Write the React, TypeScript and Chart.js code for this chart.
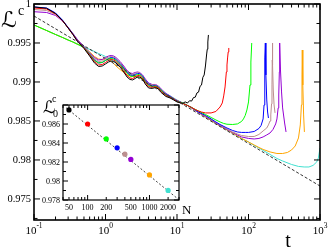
import React, { useEffect, useRef } from "react";
import { Chart, registerables } from "chart.js";

Chart.register(...registerables);

// ---------------- main plot data ----------------
const tEarly = [0.1, 0.15, 0.2, 0.25, 0.3, 0.35, 0.4, 0.5, 0.6, 0.7, 0.8, 0.9, 1, 1.1, 1.2, 1.3, 1.4, 1.6, 1.8, 2, 2.2, 2.4, 2.6, 2.8, 3, 3.3, 3.6, 4, 4.5, 5, 5.5, 6, 7, 8, 9, 10];

const blackEarly = [0.99962, 0.99945, 0.99878, 0.99789, 0.99692, 0.99609, 0.99526, 0.9943, 0.99333, 0.99244, 0.99199, 0.99205, 0.99231, 0.99256, 0.99269, 0.99263, 0.99244, 0.99192, 0.99128, 0.99064, 0.99032, 0.99026, 0.99045, 0.99064, 0.99064, 0.99039, 0.98974, 0.98923, 0.98917, 0.98929, 0.9891, 0.98865, 0.98814, 0.98795, 0.98769, 0.98744];
const blackLateT = [12, 13, 14, 15, 16, 17, 18, 19, 20, 21, 22, 23, 24, 25, 26, 26.5, 27, 27.5];
const blackLateL = [0.98724, 0.98745, 0.9873, 0.9876, 0.98755, 0.988, 0.98805, 0.9886, 0.9887, 0.98945, 0.9896, 0.9906, 0.9909, 0.99205, 0.99359, 0.9942, 0.99513, 0.99603];

const redEarly = [0.99949, 0.99936, 0.99872, 0.99789, 0.99692, 0.99609, 0.99532, 0.99436, 0.99346, 0.99263, 0.99218, 0.99224, 0.9925, 0.99276, 0.99289, 0.99282, 0.99263, 0.99212, 0.99147, 0.99083, 0.99051, 0.99045, 0.99064, 0.99083, 0.99083, 0.99051, 0.98994, 0.98942, 0.98929, 0.98942, 0.98923, 0.98878, 0.98827, 0.98801, 0.98776, 0.9875];
const redLateT = [12, 14, 16, 18, 20, 22, 25, 30, 35, 40, 43, 45, 47, 49, 50, 51, 52, 53];
const redLateL = [0.98724, 0.98699, 0.98673, 0.98647, 0.98628, 0.98615, 0.98603, 0.98603, 0.98622, 0.98679, 0.98731, 0.98821, 0.98936, 0.99128, 0.99218, 0.99308, 0.99385, 0.99436];

const greenEarly = [0.99731, 0.9966, 0.99609, 0.99571, 0.99538, 0.99513, 0.99487, 0.99442, 0.99353, 0.99276, 0.99244, 0.9925, 0.99276, 0.99295, 0.99301, 0.99295, 0.99276, 0.99224, 0.99167, 0.99109, 0.99077, 0.99071, 0.99083, 0.99096, 0.99096, 0.99064, 0.99006, 0.98955, 0.98942, 0.98949, 0.98929, 0.98891, 0.98833, 0.98808, 0.98776, 0.9875];
const greenLateT = [12, 14, 16, 18, 20, 25, 30, 35, 40, 45, 50, 60, 70, 80, 85, 90, 95, 100, 105, 108, 111];
const greenLateL = [0.98731, 0.98699, 0.98673, 0.98647, 0.98628, 0.98583, 0.98545, 0.98513, 0.98487, 0.98468, 0.98458, 0.98455, 0.98462, 0.98494, 0.98526, 0.98571, 0.98641, 0.98744, 0.98962, 0.99256, 0.995];

const blueEarly = [0.99962, 0.99949, 0.99885, 0.99795, 0.99699, 0.99615, 0.99538, 0.99442, 0.99359, 0.99282, 0.99244, 0.9925, 0.99276, 0.99301, 0.99314, 0.99308, 0.99289, 0.99237, 0.9918, 0.99122, 0.9909, 0.99083, 0.99096, 0.99109, 0.99109, 0.99077, 0.99019, 0.98968, 0.98949, 0.98955, 0.98936, 0.98897, 0.9884, 0.98814, 0.98782, 0.98756];
const blueLateT = [12, 14, 16, 18, 20, 25, 30, 35, 40, 50, 60, 70, 80, 90, 100, 120, 140, 150, 160, 165, 168, 170, 172, 175, 180, 185, 190];
const blueLateL = [0.98731, 0.98699, 0.98673, 0.98641, 0.98615, 0.98571, 0.98526, 0.98487, 0.98455, 0.9841, 0.98378, 0.98359, 0.98353, 0.98353, 0.98353, 0.98365, 0.98404, 0.98442, 0.98526, 0.98705, 0.99026, 0.99308, 0.995, 0.9909, 0.98769, 0.98615, 0.98538];

const brownEarly = [0.9993, 0.99917, 0.99865, 0.99789, 0.99699, 0.99622, 0.99545, 0.99449, 0.99372, 0.99301, 0.99263, 0.99269, 0.99295, 0.99321, 0.99327, 0.99321, 0.99301, 0.9925, 0.99192, 0.99135, 0.99103, 0.99096, 0.99109, 0.99122, 0.99115, 0.99083, 0.99026, 0.98974, 0.98962, 0.98962, 0.98942, 0.98904, 0.98846, 0.98814, 0.98788, 0.98763];
const brownLateT = [12, 14, 16, 18, 20, 25, 30, 35, 40, 50, 60, 70, 80, 100, 120, 140, 160, 180, 190, 200, 205, 210, 213, 215, 216, 218, 222, 228, 235];
const brownLateL = [0.98731, 0.98699, 0.98667, 0.98641, 0.98615, 0.98564, 0.98519, 0.98481, 0.98449, 0.98397, 0.98359, 0.98333, 0.98314, 0.98301, 0.98301, 0.98327, 0.98372, 0.9841, 0.98449, 0.985, 0.98577, 0.98718, 0.98962, 0.99282, 0.995, 0.99218, 0.98897, 0.98705, 0.98603];

const violetEarly = [0.99901, 0.99891, 0.99853, 0.99782, 0.99699, 0.99622, 0.99551, 0.99455, 0.99378, 0.99314, 0.99282, 0.99289, 0.99314, 0.99333, 0.9934, 0.99333, 0.99314, 0.99263, 0.99205, 0.99147, 0.99115, 0.99109, 0.99122, 0.99128, 0.99122, 0.9909, 0.99039, 0.98987, 0.98968, 0.98968, 0.98949, 0.9891, 0.98853, 0.98821, 0.98788, 0.98763];
const violetLateT = [12, 14, 16, 18, 20, 25, 30, 35, 40, 50, 60, 70, 80, 100, 120, 140, 160, 180, 200, 220, 240, 250, 260, 265, 270, 273, 280, 290, 300, 320, 335];
const violetLateL = [0.98731, 0.98699, 0.98667, 0.98635, 0.98609, 0.98558, 0.98513, 0.98474, 0.98442, 0.98391, 0.98353, 0.98321, 0.98295, 0.98276, 0.98269, 0.98276, 0.98295, 0.98321, 0.98346, 0.98391, 0.98462, 0.98526, 0.98667, 0.98833, 0.99128, 0.995, 0.99154, 0.98872, 0.98667, 0.98474, 0.98359];

const orangeEarly = [0.99731, 0.9966, 0.99609, 0.99571, 0.99538, 0.99513, 0.99487, 0.99449, 0.99385, 0.99327, 0.99295, 0.99289, 0.99295, 0.99289, 0.99269, 0.99237, 0.99205, 0.9916, 0.99122, 0.9909, 0.99077, 0.99071, 0.99071, 0.99071, 0.99058, 0.99032, 0.99, 0.98968, 0.98949, 0.98936, 0.98917, 0.98891, 0.98846, 0.98814, 0.98788, 0.98763];
const orangeLateT = [12, 14, 16, 18, 20, 25, 30, 35, 40, 50, 60, 70, 80, 100, 120, 140, 160, 200, 250, 300, 350, 400, 450, 500, 530, 550, 560, 565, 575, 590, 605];
const orangeLateL = [0.98731, 0.98699, 0.98667, 0.98635, 0.98609, 0.98551, 0.98506, 0.98468, 0.98436, 0.98385, 0.98346, 0.98308, 0.98276, 0.98231, 0.98192, 0.9816, 0.98135, 0.98103, 0.98083, 0.98083, 0.98096, 0.98128, 0.98179, 0.98282, 0.98449, 0.98705, 0.9909, 0.9941, 0.98962, 0.98577, 0.98359];

const turqEarly = [0.99731, 0.9966, 0.99609, 0.99571, 0.99538, 0.99513, 0.99487, 0.99449, 0.99417, 0.99391, 0.99365, 0.99346, 0.99327, 0.99308, 0.99289, 0.99269, 0.9925, 0.99212, 0.99173, 0.99135, 0.99109, 0.9909, 0.99077, 0.99064, 0.99051, 0.99032, 0.99013, 0.98987, 0.98962, 0.98936, 0.98917, 0.98897, 0.98853, 0.98821, 0.98795, 0.98769];
const turqLateT = [12, 14, 16, 18, 20, 25, 30, 35, 40, 50, 60, 70, 80, 100, 120, 140, 160, 200, 250, 300, 400, 500, 600, 700, 800, 900, 950, 1000, 1030, 1060];
const turqLateL = [0.98731, 0.98699, 0.98667, 0.98635, 0.98609, 0.98551, 0.98506, 0.98468, 0.98436, 0.98385, 0.98346, 0.98308, 0.98276, 0.98231, 0.98186, 0.98154, 0.98122, 0.98071, 0.98019, 0.97987, 0.97942, 0.97917, 0.9791, 0.9791, 0.9793, 0.97974, 0.98026, 0.98154, 0.98385, 0.98641];

const fitT = [0.1, 1000];
const fitL = [0.99846, 0.97666];

// ticks of the main plot
const xMajor = [0.1, 1, 10, 100, 1000];
const xMajorExp = ["-1", "0", "1", "2", "3"];
const yMajor = [0.975, 0.98, 0.985, 0.99, 0.995, 1];
const yMajorLabels = ["0.975", "0.98", "0.985", "0.99", "0.995", "1"];
const yMinor = [0.9725, 0.9775, 0.9825, 0.9875, 0.9925, 0.9975];

// ---------------- inset data ----------------
const insetN = [50, 100, 200, 300, 400, 500, 1000, 2000];
const insetL0 = [0.98748, 0.986, 0.98443, 0.98349, 0.98282, 0.98227, 0.98064, 0.97901];
const insetFitN = [45, 3000];
const insetFitL = [0.9877, 0.97802];
const insetXMajor = [100, 1000];
const insetXLabels = [50, 100, 200, 500, 1000, 2000];
const insetYMajor = [0.978, 0.98, 0.982, 0.984, 0.986, 0.988];
const insetYLabels = ["0.978", "0.98", "0.982", "0.984", "0.986"];
const insetYMinor = [0.979, 0.981, 0.983, 0.985, 0.987];

const COLORS = ["#000000", "#ff0000", "#00ff00", "#0000ff", "#bc8f8f", "#9400d3", "#ffa500", "#40e0d0"];

const SERIF = '"Liberation Serif", "Times New Roman", serif';
const SCRIPT = '"DejaVu Serif", "DejaVu Sans", serif';

function pts(ts: number[], vs: number[]) {
  return ts.map((t, i) => ({ x: t, y: vs[i] }));
}

function logMinor(lo: number, hi: number) {
  const out: number[] = [];
  let d = Math.pow(10, Math.floor(Math.log10(lo)));
  while (d < hi) {
    for (let k = 2; k <= 9; k++) {
      const v = d * k;
      if (v >= lo && v <= hi) out.push(v);
    }
    d *= 10;
  }
  return out;
}

const mainAxesPlugin = {
  id: "mainAxes",
  afterDraw(chart: any) {
    const { ctx, chartArea: a, scales } = chart;
    const xs = scales.x;
    const ys = scales.y;
    ctx.save();
    ctx.strokeStyle = "#000";
    ctx.lineWidth = 1;
    ctx.beginPath();
    const MAJ = 6, MIN = 3.5;
    for (const v of xMajor) {
      const p = xs.getPixelForValue(v);
      ctx.moveTo(p, a.bottom); ctx.lineTo(p, a.bottom - MAJ);
      ctx.moveTo(p, a.top); ctx.lineTo(p, a.top + MAJ);
    }
    for (const v of logMinor(0.1, 1000)) {
      const p = xs.getPixelForValue(v);
      ctx.moveTo(p, a.bottom); ctx.lineTo(p, a.bottom - MIN);
      ctx.moveTo(p, a.top); ctx.lineTo(p, a.top + MIN);
    }
    for (const v of yMajor) {
      const p = ys.getPixelForValue(v);
      ctx.moveTo(a.left, p); ctx.lineTo(a.left + MAJ, p);
      ctx.moveTo(a.right, p); ctx.lineTo(a.right - MAJ, p);
    }
    for (const v of yMinor) {
      const p = ys.getPixelForValue(v);
      ctx.moveTo(a.left, p); ctx.lineTo(a.left + MIN, p);
      ctx.moveTo(a.right, p); ctx.lineTo(a.right - MIN, p);
    }
    ctx.stroke();
    ctx.lineWidth = 1.6;
    ctx.strokeRect(a.left, a.top, a.right - a.left, a.bottom - a.top);

    ctx.fillStyle = "#000";
    // y labels
    ctx.font = `10.5px ${SERIF}`;
    ctx.textAlign = "right";
    ctx.textBaseline = "middle";
    yMajor.forEach((v, i) => {
      ctx.fillText(yMajorLabels[i], a.left - 3, ys.getPixelForValue(v) + 0.5);
    });
    // x labels 10^k
    ctx.textBaseline = "alphabetic";
    xMajor.forEach((v, i) => {
      const p = xs.getPixelForValue(v);
      ctx.font = `11px ${SERIF}`;
      const w1 = ctx.measureText("10").width;
      ctx.font = `7.5px ${SERIF}`;
      const w2 = ctx.measureText(xMajorExp[i]).width;
      const x0 = p - (w1 + w2) / 2;
      ctx.textAlign = "left";
      ctx.font = `11px ${SERIF}`;
      ctx.fillText("10", x0, a.bottom + 14);
      ctx.font = `7.5px ${SERIF}`;
      ctx.fillText(xMajorExp[i], x0 + w1, a.bottom + 8);
    });
    // axis titles
    ctx.textAlign = "center";
    ctx.font = `20px ${SERIF}`;
    ctx.fillText("t", 288, 247);
    ctx.textAlign = "left";
    ctx.font = `22px ${SCRIPT}`;
    ctx.fillText("\u2112", 1, 27);
    ctx.font = `14px ${SERIF}`;
    ctx.fillText("c", 18, 15);
    ctx.restore();
  },
};

const insetPlugin = {
  id: "insetAxes",
  beforeDraw(chart: any) {
    const { ctx, chartArea: a } = chart;
    ctx.save();
    ctx.fillStyle = "#fff";
    ctx.fillRect(a.left, a.top, a.right - a.left, a.bottom - a.top);
    ctx.restore();
  },
  afterDraw(chart: any) {
    const { ctx, chartArea: a, scales } = chart;
    const xs = scales.x;
    const ys = scales.y;
    ctx.save();
    ctx.strokeStyle = "#000";
    ctx.lineWidth = 1;
    ctx.beginPath();
    const MAJ = 5, MIN = 3;
    for (const v of insetXMajor) {
      const p = xs.getPixelForValue(v);
      ctx.moveTo(p, a.bottom); ctx.lineTo(p, a.bottom - MAJ);
      ctx.moveTo(p, a.top); ctx.lineTo(p, a.top + MAJ);
    }
    for (const v of logMinor(40, 3000)) {
      const p = xs.getPixelForValue(v);
      ctx.moveTo(p, a.bottom); ctx.lineTo(p, a.bottom - MIN);
      ctx.moveTo(p, a.top); ctx.lineTo(p, a.top + MIN);
    }
    for (const v of insetYMajor) {
      const p = ys.getPixelForValue(v);
      ctx.moveTo(a.left, p); ctx.lineTo(a.left + MAJ, p);
      ctx.moveTo(a.right, p); ctx.lineTo(a.right - MAJ, p);
    }
    for (const v of insetYMinor) {
      const p = ys.getPixelForValue(v);
      ctx.moveTo(a.left, p); ctx.lineTo(a.left + MIN, p);
      ctx.moveTo(a.right, p); ctx.lineTo(a.right - MIN, p);
    }
    ctx.stroke();
    ctx.lineWidth = 1.2;
    ctx.strokeRect(a.left, a.top, a.right - a.left, a.bottom - a.top);

    ctx.fillStyle = "#000";
    ctx.font = `8px ${SERIF}`;
    ctx.textAlign = "right";
    ctx.textBaseline = "middle";
    insetYLabels.forEach((s, i) => {
      ctx.fillText(s, a.left - 3, ys.getPixelForValue(insetYMajor[i]) + 0.5);
    });
    ctx.textAlign = "center";
    ctx.textBaseline = "alphabetic";
    insetXLabels.forEach((v) => {
      ctx.fillText(String(v), xs.getPixelForValue(v), a.bottom + 10);
    });
    ctx.textAlign = "left";
    ctx.font = `13px ${SERIF}`;
    ctx.fillText("N", 182, 214);
    ctx.font = `17px ${SCRIPT}`;
    ctx.fillText("\u2112", 43, 113);
    ctx.font = `10px ${SERIF}`;
    ctx.fillText("c", 52, 102);
    ctx.fillText("0", 53, 117);
    ctx.restore();
  },
};

function line(label: string, color: string, early: number[], lateT: number[], lateL: number[]) {
  return {
    label,
    data: [...pts(tEarly, early), ...pts(lateT, lateL)],
    borderColor: color,
    backgroundColor: color,
    borderWidth: 1,
    pointRadius: 0,
    tension: 0,
    fill: false,
  };
}

export default function App() {
  const mainRef = useRef<HTMLCanvasElement>(null);
  const insetRef = useRef<HTMLCanvasElement>(null);

  useEffect(() => {
    const main = new Chart(mainRef.current as HTMLCanvasElement, {
      type: "line",
      data: {
        datasets: [
          {
            label: "fit",
            data: pts(fitT, fitL),
            borderColor: "#333",
            borderWidth: 1,
            borderDash: [3, 2],
            pointRadius: 0,
            fill: false,
          },
          line("N=50", COLORS[0], blackEarly, blackLateT, blackLateL),
          line("N=100", COLORS[1], redEarly, redLateT, redLateL),
          line("N=200", COLORS[2], greenEarly, greenLateT, greenLateL),
          line("N=300", COLORS[3], blueEarly, blueLateT, blueLateL),
          line("N=400", COLORS[4], brownEarly, brownLateT, brownLateL),
          line("N=500", COLORS[5], violetEarly, violetLateT, violetLateL),
          line("N=1000", COLORS[6], orangeEarly, orangeLateT, orangeLateL),
          line("N=2000", COLORS[7], turqEarly, turqLateT, turqLateL),
        ] as any,
      },
      options: {
        animation: false,
        responsive: false,
        maintainAspectRatio: false,
        layout: { padding: { left: 34, top: 4, right: 11, bottom: 29 } },
        plugins: { legend: { display: false }, tooltip: { enabled: false } },
        scales: {
          x: { type: "logarithmic", min: 0.1, max: 1000, display: false },
          y: { type: "linear", min: 0.9723, max: 1.0, display: false },
        },
      },
      plugins: [mainAxesPlugin],
    });

    const inset = new Chart(insetRef.current as HTMLCanvasElement, {
      type: "line",
      data: {
        datasets: [
          {
            label: "L0c",
            data: pts(insetN, insetL0),
            showLine: false,
            pointRadius: 2.6,
            pointBorderWidth: 0,
            pointBackgroundColor: COLORS,
            pointBorderColor: COLORS,
          },
          {
            label: "fit",
            data: pts(insetFitN, insetFitL),
            borderColor: "#444",
            borderWidth: 1,
            borderDash: [2, 2],
            pointRadius: 0,
            fill: false,
          },
        ] as any,
      },
      options: {
        animation: false,
        responsive: false,
        maintainAspectRatio: false,
        layout: { padding: { left: 63, top: 105, right: 152, bottom: 49 } },
        plugins: { legend: { display: false }, tooltip: { enabled: false } },
        scales: {
          x: { type: "logarithmic", min: 40, max: 3000, display: false },
          y: { type: "linear", min: 0.978, max: 0.988, display: false },
        },
      },
      plugins: [insetPlugin],
    });

    return () => {
      main.destroy();
      inset.destroy();
    };
  }, []);

  return (
    <div style={{ position: "fixed", left: 0, top: 0, width: 331, height: 249, background: "#fff" }}>
      <canvas ref={mainRef} width={331} height={249} style={{ position: "absolute", left: 0, top: 0 }} />
      <canvas ref={insetRef} width={331} height={249} style={{ position: "absolute", left: 0, top: 0 }} />
    </div>
  );
}
